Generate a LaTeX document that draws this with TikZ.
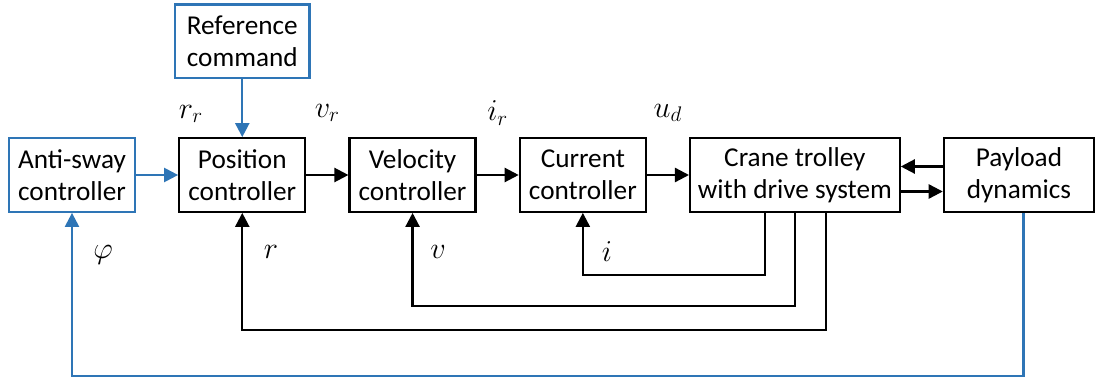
\documentclass[tikz,border=0pt]{standalone}
\usepackage{fontspec}
\setmainfont{Carlito}
\definecolor{swayblue}{RGB}{46,117,182}
\usetikzlibrary{arrows.meta, positioning, calc}

\begin{document}
\begin{tikzpicture}[
  node distance=0.84cm,
  font=\fontsize{15.5}{18.2}\selectfont,
  box/.style={draw, line width=1.3pt, minimum width=2.52cm, minimum height=1.47cm,
              align=center, inner sep=2pt},
  bluebox/.style={box, draw=swayblue},
  lbl/.style={font=\fontsize{18}{20}\selectfont},
  arr/.style={-{Triangle[length=8pt, width=8pt]}, line width=1.3pt},
  bluearr/.style={arr, swayblue}
]
\useasboundingbox (-1.44,3.5) rectangle (20.46,-4.12);

\node[bluebox] (anti) {Anti-sway\\controller};
\node[box, right=of anti] (pos) {Position\\controller};
\node[box, right=of pos] (vel) {Velocity\\controller};
\node[box, right=of vel] (cur) {Current\\controller};
\node[box, right=of cur, minimum width=4.19cm] (crane) {Crane trolley\\with drive system};
\node[box, right=of crane, minimum width=3.0cm] (pay) {Payload\\dynamics};
\node[bluebox, above=1.16cm of pos, minimum width=2.69cm] (ref) {Reference\\command};

% forward path
\draw[bluearr] (ref) -- (pos);
\draw[bluearr] (anti) -- (pos);
\draw[arr] (pos) -- (vel) node[lbl, midway, yshift=1.24cm] {$v_r$};
\draw[arr] (vel) -- (cur) node[lbl, midway, yshift=1.24cm] {$i_r$};
\draw[arr] (cur) -- (crane) node[lbl, midway, yshift=1.24cm] {$u_d$};
\draw[arr] ([yshift=0.17cm]pay.west) -- ([yshift=0.17cm]crane.east);
\draw[arr] ([yshift=-0.33cm]crane.east) -- ([yshift=-0.33cm]pay.west);
\node[lbl] (rr) at (2.38,1.22) {$r_r$};

% feedback loops
\draw[arr] ([xshift=-0.6cm]crane.south) -- ++(0,-1.24) -| (cur.south);
\draw[arr] (crane.south) -- ++(0,-1.86) -| (vel.south);
\draw[arr] ([xshift=0.62cm]crane.south) -- ++(0,-2.34) -| (pos.south);
\draw[bluearr] ([xshift=0.09cm]pay.south) -- ++(0,-3.26) -| (anti.south);
\node[lbl] (phi) at (0.62,-1.6) {$\varphi$};
\node[lbl] (r) at (3.98,-1.54) {$r$};
\node[lbl] (v) at (7.32,-1.54) {$v$};
\node[lbl] (i) at (10.7,-1.54) {$i$};
\end{tikzpicture}
\end{document}
